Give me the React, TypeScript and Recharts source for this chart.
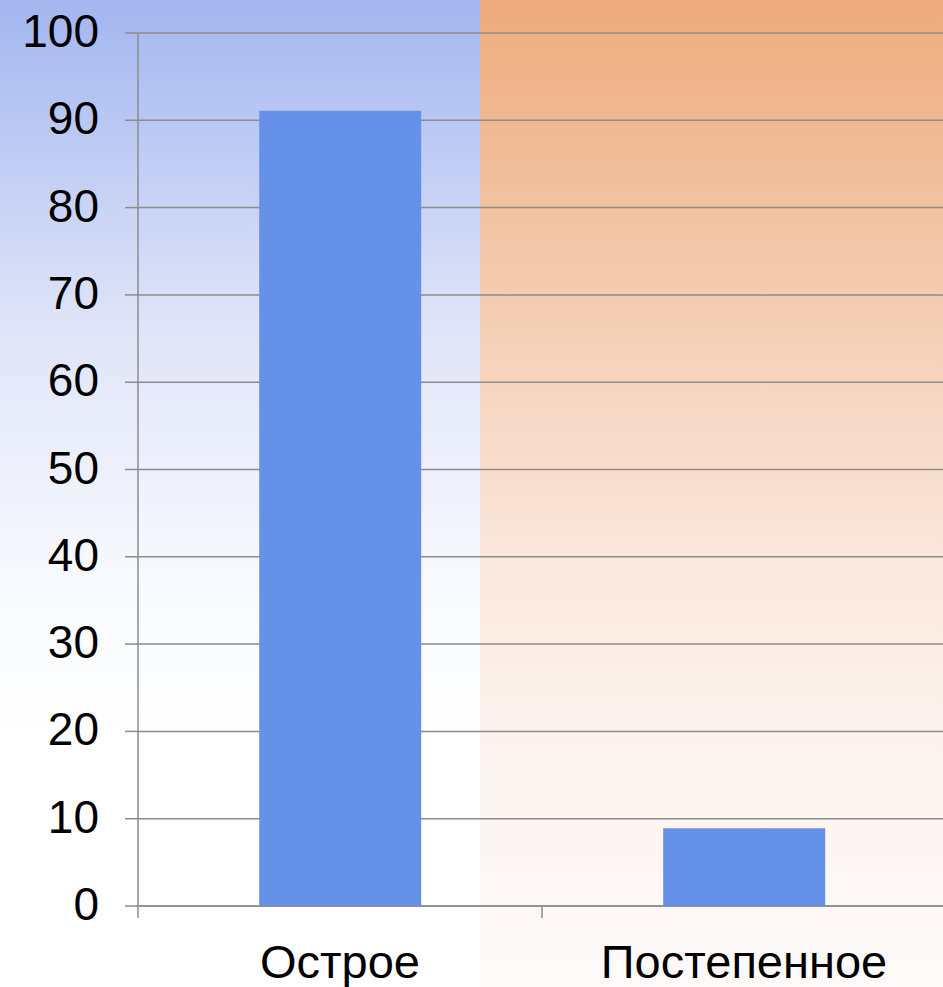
import { BarChart, Bar, XAxis, YAxis, CartesianGrid } from 'recharts'

// categories and values
const CATEGORIES = ['Острое', 'Постепенное']
const VALUES = [91.1, 8.9]
const Y_TICKS = [0, 10, 20, 30, 40, 50, 60, 70, 80, 90, 100]

const DATA = CATEGORIES.map((name, i) => ({ name, value: VALUES[i] }))

const FONT = '"Liberation Sans", Arial, sans-serif'
const GRID = '#8c8c8c'

// x tick: label in the band centre, little tick mark on the band's left edge (Excel style)
function CategoryTick(props: any) {
  const { x, y, payload, width, visibleTicksCount } = props
  const half = width / visibleTicksCount / 2
  return (
    <g>
      <line x1={x - half} x2={x - half} y1={y} y2={y + 12} stroke={GRID} strokeWidth={1.5} />
      <text x={x} y={y + 72} textAnchor="middle" fill="#000"
        fontSize={47} fontFamily={FONT}>
        {payload.value}
      </text>
    </g>
  )
}

function ValueTick(props: any) {
  const { x, y, payload } = props
  return (
    <text x={x} y={y + 14} textAnchor="end" fill="#000" fontSize={46} fontFamily={FONT}>
      {payload.value}
    </text>
  )
}

export default function App() {
  return (
    <div style={{ position: 'absolute', left: 0, top: 0, width: 943, height: 987, overflow: 'hidden' }}>
      {/* slide background: blue half on the left, orange half on the right */}
      <div style={{
        position: 'absolute', left: 0, top: 0, width: 480, height: 987,
        background: 'linear-gradient(to bottom, #a3b6ef 0%, #dfe4f8 33%, #f8f9fe 58%, #ffffff 75%, #ffffff 100%)',
      }} />
      <div style={{
        position: 'absolute', left: 480, top: 0, width: 463, height: 987,
        background: 'linear-gradient(to bottom, #eeab7c 0%, #f4cfb6 33%, #fbe8de 58%, #fcf3ef 75%, #fdfaf9 100%)',
      }} />
      <div style={{ position: 'absolute', left: 0, top: 0 }}>
        <BarChart width={946} height={987} data={DATA}
          margin={{ top: 33, right: 0, bottom: 0, left: 0 }} barCategoryGap="30%">
          <CartesianGrid horizontal vertical={false} stroke={GRID} strokeWidth={1.5} />
          <XAxis dataKey="name" height={81} axisLine={{ stroke: GRID, strokeWidth: 1.5 }}
            tickLine={false} tickSize={0} tickMargin={0} interval={0} tick={<CategoryTick />} />
          <YAxis width={138} domain={[0, 100]} ticks={Y_TICKS} interval={0}
            axisLine={{ stroke: GRID, strokeWidth: 1.5 }}
            tickLine={{ stroke: GRID, strokeWidth: 1.5 }} tickSize={13} tickMargin={26}
            tick={<ValueTick />} />
          <Bar dataKey="value" fill="#6691e8" isAnimationActive={false} />
        </BarChart>
      </div>
    </div>
  )
}
